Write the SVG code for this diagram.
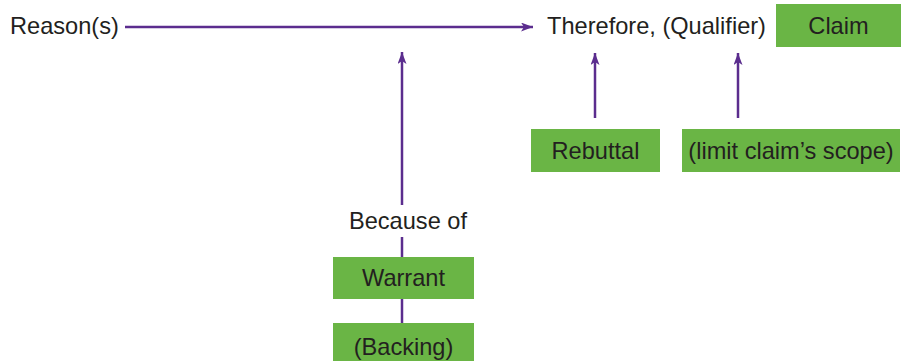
<svg xmlns="http://www.w3.org/2000/svg" width="904" height="361" viewBox="0 0 904 361">
<style>
text{font-family:"Liberation Sans",Arial,sans-serif;font-size:23.6px;fill:#231f20}
.box{fill:#6ab545}
.c{text-anchor:middle}
.ln{stroke:#5b2d8e;stroke-width:2.5;fill:none}
</style>
<defs>
<marker id="ah" viewBox="0 0 12 9" refX="12" refY="4.5" markerWidth="12" markerHeight="9" markerUnits="userSpaceOnUse" orient="auto">
<path d="M0,0 L12,4.5 L0,9 L3,4.5 Z" fill="#5b2d8e"/>
</marker>
</defs>
<g id="connectors">
<line class="ln" x1="125" y1="27" x2="533" y2="27" marker-end="url(#ah)"/>
<line class="ln" x1="402" y1="205" x2="402" y2="52" marker-end="url(#ah)"/>
<line class="ln" x1="402" y1="237" x2="402" y2="257"/>
<line class="ln" x1="402" y1="299" x2="402" y2="323"/>
<line class="ln" x1="595" y1="118" x2="595" y2="53" marker-end="url(#ah)"/>
<line class="ln" x1="738" y1="118" x2="738" y2="53" marker-end="url(#ah)"/>
</g>
<g id="reasons"><text x="10" y="34">Reason(s)</text></g>
<g id="qualifier"><text x="547" y="34">Therefore, (Qualifier)</text></g>
<g id="claim"><rect class="box" x="776" y="4" width="125" height="43"/><text class="c" x="838.5" y="34">Claim</text></g>
<g id="rebuttal"><rect class="box" x="531" y="129" width="129" height="43"/><text class="c" x="595.5" y="159">Rebuttal</text></g>
<g id="scope"><rect class="box" x="682" y="129" width="218" height="43"/><text class="c" x="791" y="159">(limit claim’s scope)</text></g>
<g id="because"><text class="c" x="408" y="229">Because of</text></g>
<g id="warrant"><rect class="box" x="333" y="257" width="141" height="42"/><text class="c" x="403.5" y="286">Warrant</text></g>
<g id="backing"><rect class="box" x="333" y="323" width="141" height="38"/><text class="c" x="403.5" y="355">(Backing)</text></g>
</svg>
